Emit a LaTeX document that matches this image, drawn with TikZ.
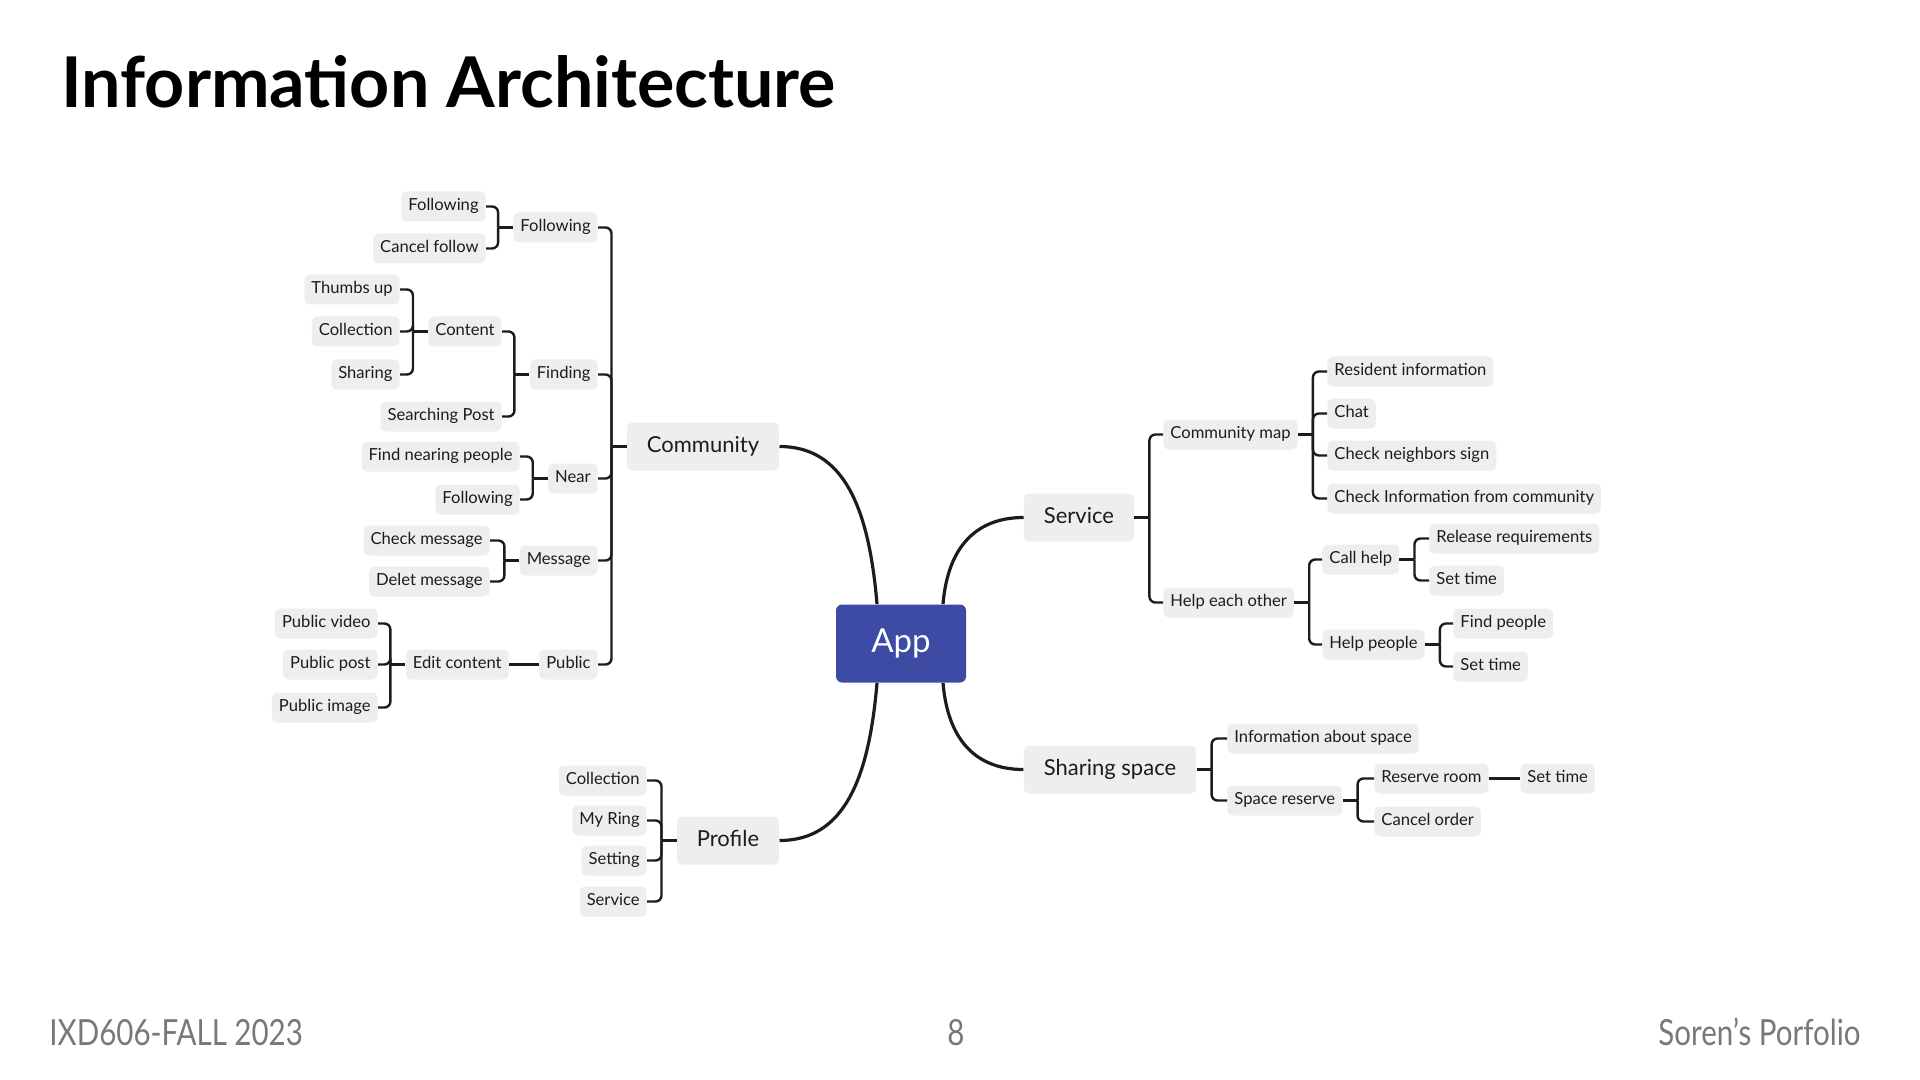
\documentclass[tikz,border=0pt]{standalone}
\usepackage{fontspec}
\setmainfont{Lato}
\newfontfamily\footfont[FakeStretch=0.82]{Lato}

\definecolor{appblue}{RGB}{61,75,165}
\definecolor{boxgray}{RGB}{238,238,238}
\definecolor{inkdark}{RGB}{28,28,28}
\definecolor{footgray}{RGB}{120,120,120}

\tikzset{
  leaf/.style={fill=boxgray, rounded corners=2.5pt, minimum height=15pt,
    inner xsep=3.5pt, inner ysep=0pt, text height=6.1pt, text depth=1.8pt,
    font=\fontsize{8.3}{10}\selectfont, text=inkdark},
  lside/.style={leaf, anchor=east},
  rside/.style={leaf, anchor=west},
  topic/.style={leaf, minimum height=24pt, inner xsep=10pt, text height=8pt,
    text depth=2.3pt, font=\fontsize{11}{13}\selectfont},
  root/.style={fill=appblue, rounded corners=3pt, minimum width=65pt,
    minimum height=39pt, text=white, font=\fontsize{16.5}{18}\selectfont},
  conn/.style={line width=1.2pt, draw=inkdark, rounded corners=3pt},
  branch/.style={line width=1.6pt, draw=inkdark},
  foot/.style={inner sep=0pt, text=footgray, font=\footfont\fontsize{18}{20}\selectfont},
}

\begin{document}
\begin{tikzpicture}[x=0.5pt,y=-0.5pt]
\useasboundingbox (0,0) rectangle (1920,1080);

% heading and footer
\node[anchor=base west, inner sep=0pt, font=\bfseries\fontsize{35}{40}\selectfont] (title) at (61,108) {Information Architecture};
\node[foot, anchor=base west] (course) at (49,1045) {IXD606-FALL 2023};
\node[foot, anchor=base] (page) at (956,1045) {8};
\node[foot, anchor=base east] (owner) at (1861,1045) {Soren’s Porfolio};

\begin{scope}[shift={(0,2.5)}]
% centre and main topics
\node[root] (app) at (901,641) {App};
\node[topic] (community) at (703,444) {Community};
\node[topic] (profile) at (728,838) {Profile};
\node[topic] (service) at (1079,515) {Service};
\node[topic] (sharing) at (1110,767) {Sharing space};

\draw[branch] ([xshift=-12pt]app.north) .. controls +(-8,-95) and +(65,0) .. (community.east);
\draw[branch] ([xshift=-12pt]app.south) .. controls +(-8,95) and +(65,0) .. (profile.east);
\draw[branch] ([xshift=21pt]app.north) .. controls +(5,-60) and +(-45,0) .. (service.west);
\draw[branch] ([xshift=21pt]app.south) .. controls +(5,60) and +(-45,0) .. (sharing.west);

% community
\node[lside] (following) at (598,225) {Following};
\node[lside] (finding) at (598,372) {Finding};
\node[lside] (near) at (598,476) {Near};
\node[lside] (message) at (598,558) {Message};
\node[lside] (public) at (598,662) {Public};

\node[lside] (folA) at (486,204) {Following};
\node[lside] (folB) at (486,246) {Cancel follow};
\node[lside] (content) at (502,329) {Content};
\node[lside] (search) at (502,414) {Searching Post};
\node[lside] (thumbs) at (400,287) {Thumbs up};
\node[lside] (collect) at (400,329) {Collection};
\node[lside] (sharingc) at (400,372) {Sharing};
\node[lside] (findnear) at (520,454) {Find nearing people};
\node[lside] (nearfol) at (520,497) {Following};
\node[lside] (checkmsg) at (490,538) {Check message};
\node[lside] (deletmsg) at (490,579) {Delet message};
\node[lside] (edit) at (509,662) {Edit content};
\node[lside] (pubvideo) at (378,621) {Public video};
\node[lside] (pubpost) at (378,662) {Public post};
\node[lside] (pubimage) at (378,705) {Public image};

\draw[conn] (community.west) -- ++(-15,0) coordinate (communityJ);
\foreach \c in {following,finding,near,message,public} \draw[conn] (communityJ) |- (\c.east);
\draw[conn] (following.west) -- ++(-15,0) coordinate (followingJ);
\foreach \c in {folA,folB} \draw[conn] (followingJ) |- (\c.east);
\draw[conn] (finding.west) -- ++(-15,0) coordinate (findingJ);
\foreach \c in {content,search} \draw[conn] (findingJ) |- (\c.east);
\draw[conn] (content.west) -- ++(-15,0) coordinate (contentJ);
\foreach \c in {thumbs,collect,sharingc} \draw[conn] (contentJ) |- (\c.east);
\draw[conn] (near.west) -- ++(-15,0) coordinate (nearJ);
\foreach \c in {findnear,nearfol} \draw[conn] (nearJ) |- (\c.east);
\draw[conn] (message.west) -- ++(-15,0) coordinate (messageJ);
\foreach \c in {checkmsg,deletmsg} \draw[conn] (messageJ) |- (\c.east);
\draw[conn] (public.west) -- (edit.east);
\draw[conn] (edit.west) -- ++(-15,0) coordinate (editJ);
\foreach \c in {pubvideo,pubpost,pubimage} \draw[conn] (editJ) |- (\c.east);

% profile
\node[lside] (pcollect) at (647,778) {Collection};
\node[lside] (ring) at (647,818) {My Ring};
\node[lside] (setting) at (647,858) {Setting};
\node[lside] (pservice) at (647,899) {Service};
\draw[conn] (profile.west) -- ++(-15,0) coordinate (profileJ);
\foreach \c in {pcollect,ring,setting,pservice} \draw[conn] (profileJ) |- (\c.east);

% service
\node[rside] (cmap) at (1163,432) {Community map};
\node[rside] (helpeach) at (1163,600) {Help each other};
\node[rside] (resident) at (1327,369) {Resident information};
\node[rside] (chat) at (1327,411) {Chat};
\node[rside] (checkn) at (1327,453) {Check neighbors sign};
\node[rside] (checkinfo) at (1327,496) {Check Information from community};
\node[rside] (callhelp) at (1322,557) {Call help};
\node[rside] (helppeople) at (1322,642) {Help people};
\node[rside] (release) at (1429,536) {Release requirements};
\node[rside] (timeA) at (1429,578) {Set time};
\node[rside] (findpeople) at (1453,621) {Find people};
\node[rside] (timeB) at (1453,664) {Set time};

\draw[conn] (service.east) -- ++(15,0) coordinate (serviceJ);
\foreach \c in {cmap,helpeach} \draw[conn] (serviceJ) |- (\c.west);
\draw[conn] (cmap.east) -- ++(15,0) coordinate (cmapJ);
\foreach \c in {resident,chat,checkn,checkinfo} \draw[conn] (cmapJ) |- (\c.west);
\draw[conn] (helpeach.east) -- ++(15,0) coordinate (helpeachJ);
\foreach \c in {callhelp,helppeople} \draw[conn] (helpeachJ) |- (\c.west);
\draw[conn] (callhelp.east) -- ++(15,0) coordinate (callhelpJ);
\foreach \c in {release,timeA} \draw[conn] (callhelpJ) |- (\c.west);
\draw[conn] (helppeople.east) -- ++(15,0) coordinate (helppeopleJ);
\foreach \c in {findpeople,timeB} \draw[conn] (helppeopleJ) |- (\c.west);

% sharing space
\node[rside] (infospace) at (1227,736) {Information about space};
\node[rside] (reserve) at (1227,798) {Space reserve};
\node[rside] (room) at (1374,776) {Reserve room};
\node[rside] (cancel) at (1374,819) {Cancel order};
\node[rside] (timeC) at (1520,776) {Set time};

\draw[conn] (sharing.east) -- ++(15,0) coordinate (sharingJ);
\foreach \c in {infospace,reserve} \draw[conn] (sharingJ) |- (\c.west);
\draw[conn] (reserve.east) -- ++(15,0) coordinate (reserveJ);
\foreach \c in {room,cancel} \draw[conn] (reserveJ) |- (\c.west);
\draw[conn] (room.east) -- (timeC.west);
\end{scope}
\end{tikzpicture}
\end{document}
